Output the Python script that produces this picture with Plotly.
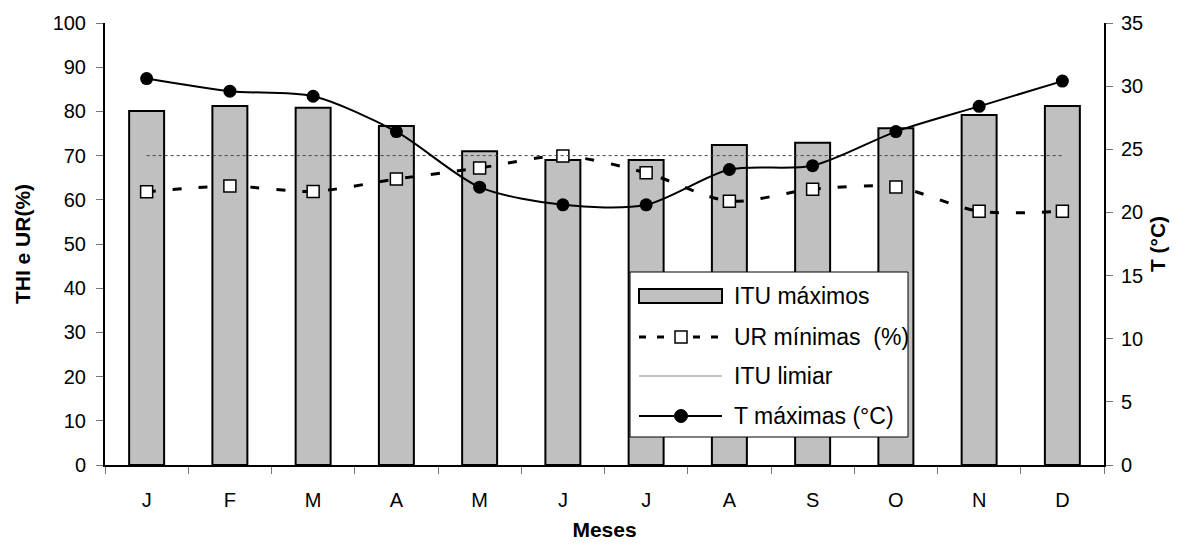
import plotly.graph_objects as go

meses = ["J", "F", "M", "A", "M", "J", "J", "A", "S", "O", "N", "D"]
itu_maximos = [80.1, 81.2, 80.8, 76.7, 71.0, 69.0, 69.0, 72.4, 72.9, 76.2, 79.2, 81.2]
ur_minimas = [61.8, 63.1, 61.9, 64.7, 67.2, 69.9, 66.1, 59.7, 62.4, 62.9, 57.4, 57.4]
itu_limiar = [70, 70, 70, 70, 70, 70, 70, 70, 70, 70, 70, 70]
t_maximas = [30.6, 29.6, 29.2, 26.4, 22.0, 20.6, 20.6, 23.4, 23.7, 26.4, 28.4, 30.4]

FONT = "Liberation Sans, Arial, sans-serif"
x = list(range(len(meses)))

fig = go.Figure()
fig.add_trace(go.Bar(x=x, y=itu_maximos, width=0.42, name="ITU máximos",
                     marker=dict(color="#c0c0c0", line=dict(color="black", width=2)),
                     showlegend=False))
fig.add_trace(go.Scatter(x=x, y=ur_minimas, name="UR mínimas  (%)", mode="lines+markers",
                         line=dict(color="black", width=3, dash="9px,17px", shape="spline", smoothing=0.8),
                         marker=dict(symbol="square", size=12, color="white",
                                     line=dict(color="black", width=1.5)),
                         showlegend=False))
fig.add_trace(go.Scatter(x=x, y=itu_limiar, name="ITU limiar", mode="lines",
                         line=dict(color="#444444", width=1, dash="dot"), showlegend=False))
fig.add_trace(go.Scatter(x=x, y=t_maximas, name="T máximas (°C)", mode="lines+markers", yaxis="y2",
                         line=dict(color="black", width=2, shape="spline", smoothing=0.8),
                         marker=dict(symbol="circle", size=13, color="black"),
                         showlegend=False))

# custom legend (paper coords from pixel positions)
L, R, T, B = 105, 1104, 23, 465
def px(xp):
    return (xp - L) / (R - L)
def py(yp):
    return (B - yp) / (B - T)

shapes = []
shapes.append(dict(type="rect", xref="paper", yref="paper", x0=px(630), x1=px(908), y0=py(437), y1=py(272),
                   line=dict(color="black", width=1), fillcolor="white", layer="above"))
rows = [296, 337, 376, 416]
labels = ["ITU máximos", "UR mínimas  (%)", "ITU limiar", "T máximas (°C)"]
sx0, sx1, sxc = 639, 722, 681
shapes.append(dict(type="rect", xref="paper", yref="paper", x0=px(sx0), x1=px(sx1), y0=py(rows[0] + 7), y1=py(rows[0] - 7),
                   line=dict(color="black", width=2), fillcolor="#c0c0c0", layer="above"))
shapes.append(dict(type="line", xref="paper", yref="paper", x0=px(sx0), x1=px(sx1), y0=py(rows[1]), y1=py(rows[1]),
                   line=dict(color="black", width=3, dash="7px,11px"), layer="above"))
shapes.append(dict(type="rect", xref="paper", yref="paper", x0=px(sxc - 6), x1=px(sxc + 6), y0=py(rows[1] + 6), y1=py(rows[1] - 6),
                   line=dict(color="black", width=1.5), fillcolor="white", layer="above"))
shapes.append(dict(type="line", xref="paper", yref="paper", x0=px(sx0), x1=px(sx1), y0=py(rows[2]), y1=py(rows[2]),
                   line=dict(color="#888888", width=1), layer="above"))
shapes.append(dict(type="line", xref="paper", yref="paper", x0=px(sx0), x1=px(sx1), y0=py(rows[3]), y1=py(rows[3]),
                   line=dict(color="black", width=2), layer="above"))
shapes.append(dict(type="circle", xref="paper", yref="paper", x0=px(sxc - 6.5), x1=px(sxc + 6.5), y0=py(rows[3] + 6.5), y1=py(rows[3] - 6.5),
                   line=dict(color="black", width=1), fillcolor="black", layer="above"))

annotations = []
for r, t in zip(rows, labels):
    annotations.append(dict(xref="paper", yref="paper", x=px(732), y=py(r), text=t, showarrow=False,
                            xanchor="left", yanchor="middle", font=dict(family=FONT, size=23, color="black")))

fig.update_layout(
    width=1190, height=545,
    margin=dict(l=L, r=1190 - R, t=T, b=545 - B),
    paper_bgcolor="white", plot_bgcolor="white",
    font=dict(family=FONT, size=20, color="black"),
    showlegend=False,
    shapes=shapes, annotations=annotations,
    xaxis=dict(range=[-0.5, 11.5], tickvals=x, ticktext=meses, ticks="", showgrid=False, zeroline=False,
               showline=True, linecolor="black", linewidth=2, ticklabelstandoff=16, automargin=False,
               tickfont=dict(size=20),
               minor=dict(tickvals=[i - 0.5 for i in range(13)], ticks="outside", ticklen=7, tickcolor="#777777", showgrid=False),
               title=dict(text="<b>Meses</b>", font=dict(size=21), standoff=12)),
    yaxis=dict(range=[0, 100], dtick=10, ticks="outside", ticklen=7, tickcolor="#777777", showgrid=False, zeroline=False,
               showline=True, linecolor="black", linewidth=2, tickfont=dict(size=20), ticklabelstandoff=6,
               automargin=False,
               title=dict(text="<b>THI e UR(%)</b>", font=dict(size=21), standoff=16)),
    yaxis2=dict(range=[0, 35], dtick=5, overlaying="y", side="right", ticks="outside", ticklen=7, tickcolor="#777777",
                showgrid=False, zeroline=False, showline=True, linecolor="black", linewidth=2,
                tickfont=dict(size=20), ticklabelstandoff=4, automargin=False,
                title=dict(text="<b>T (°C)</b>", font=dict(size=21), standoff=8)),
)

fig.write_html("out.html")
